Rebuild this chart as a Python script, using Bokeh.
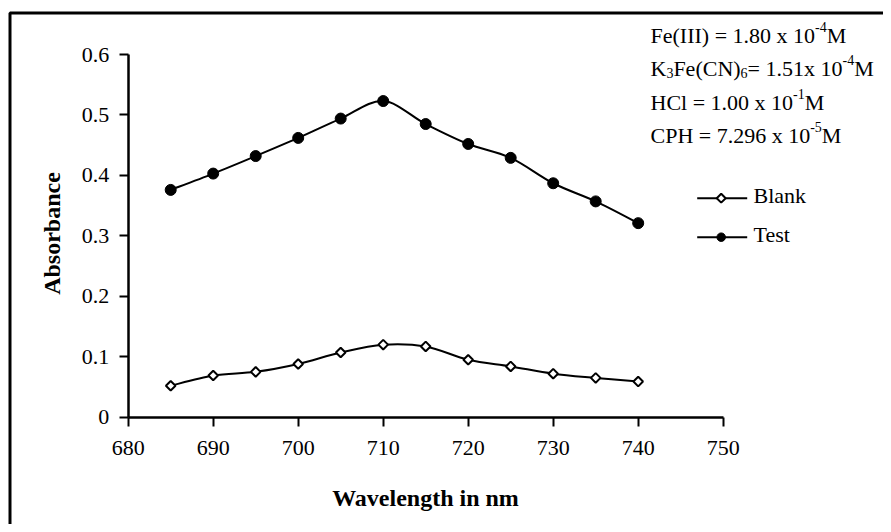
import math
from bokeh.plotting import figure
from bokeh.models import (Range1d, LinearAxis, FixedTicker, CustomJSTickFormatter,
                          Label, BoxAnnotation, ColumnDataSource)
from bokeh.embed import file_html
from bokeh.resources import INLINE

# ---------------- data ----------------
wavelength = [685, 690, 695, 700, 705, 710, 715, 720, 725, 730, 735, 740]
blank = [0.052, 0.069, 0.075, 0.088, 0.107, 0.120, 0.117, 0.095, 0.084, 0.072, 0.065, 0.059]
test = [0.376, 0.403, 0.432, 0.462, 0.494, 0.523, 0.485, 0.452, 0.429, 0.387, 0.357, 0.321]
series_names = ["Blank", "Test"]
x_ticks = [680, 690, 700, 710, 720, 730, 740, 750]
y_ticks = [0, 0.1, 0.2, 0.3, 0.4, 0.5, 0.6]
x_title = "Wavelength in nm"
y_title = "Absorbance"
# condition notes: (text, "" | "sup" | "sub") pieces
notes = [
    [("Fe(III) = 1.80 x 10", ""), ("-4", "sup"), ("M", "")],
    [("K", ""), ("3", "sub"), ("Fe(CN)", ""), ("6", "sub"), ("= 1.51x 10", ""), ("-4", "sup"), ("M", "")],
    [("HCl = 1.00 x 10", ""), ("-1", "sup"), ("M", "")],
    [("CPH = 7.296 x 10", ""), ("-5", "sup"), ("M", "")],
]

# ---------------- geometry (canvas pixels) ----------------
W, H = 883, 524
PX_X680, PX_PER_X = 127.7, 8.5
PX_Y0, PX_PER_Y = 416.7, 604.5
X0 = x_ticks[0] - PX_X680 / PX_PER_X
X1 = X0 + W / PX_PER_X
Y1 = PX_Y0 / PX_PER_Y
Y0 = Y1 - H / PX_PER_Y


def dx(px):
    return X0 + px / PX_PER_X


def dy(py):
    return Y1 - py / PX_PER_Y


FONT = "Liberation Serif"
BASE = 22
SMALL = 14
BL_FIX = -8.5   # correction of label anchor to put the alphabetic baseline where wanted

# Times / Liberation Serif advance widths (1/1000 em)
ADV = {' ': 250, '(': 333, ')': 333, '.': 250, '=': 564, '-': 333, 'x': 500, 'F': 556,
       'e': 444, 'I': 333, 'K': 722, 'C': 667, 'N': 722, 'H': 722, 'l': 278, 'P': 556,
       'M': 889}


def text_width(s, size):
    return sum(ADV.get(c, 500) for c in s) / 1000.0 * size


p = figure(width=W, height=H, x_range=Range1d(X0, X1), y_range=Range1d(Y0, Y1),
           x_axis_location=None, y_axis_location=None, toolbar_location=None,
           output_backend="svg", min_border=0, outline_line_color=None,
           background_fill_color="white", border_fill_color="white", title=None)
p.xgrid.visible = False
p.ygrid.visible = False


def style_axis(ax):
    ax.axis_line_color = "black"
    ax.axis_line_width = 2.5
    ax.major_tick_line_color = "black"
    ax.major_tick_line_width = 2
    ax.major_tick_out = 9
    ax.major_tick_in = 0
    ax.minor_tick_out = 0
    ax.minor_tick_in = 0
    ax.major_label_text_font = FONT
    ax.major_label_text_font_size = "%dpx" % BASE
    ax.major_label_text_color = "black"


xaxis = LinearAxis(fixed_location=0, bounds=(x_ticks[0], x_ticks[-1]),
                   ticker=FixedTicker(ticks=x_ticks))
style_axis(xaxis)
xaxis.major_label_standoff = 15
p.add_layout(xaxis, "below")

yaxis = LinearAxis(fixed_location=x_ticks[0], bounds=(y_ticks[0], y_ticks[-1]),
                   ticker=FixedTicker(ticks=y_ticks),
                   formatter=CustomJSTickFormatter(code="return String(Math.round(tick*10)/10)"))
style_axis(yaxis)
yaxis.major_label_standoff = 10
p.add_layout(yaxis, "left")


# smooth (Excel-like) line drawn as cubic Bezier segments through the data points
def smooth(xs, ys):
    n = len(xs)
    d = dict(x0=[], y0=[], x1=[], y1=[], cx0=[], cy0=[], cx1=[], cy1=[])
    for i in range(n - 1):
        a = max(i - 1, 0)
        b = min(i + 2, n - 1)
        d["x0"].append(xs[i]); d["y0"].append(ys[i])
        d["x1"].append(xs[i + 1]); d["y1"].append(ys[i + 1])
        d["cx0"].append(xs[i] + (xs[i + 1] - xs[a]) / 6)
        d["cy0"].append(ys[i] + (ys[i + 1] - ys[a]) / 6)
        d["cx1"].append(xs[i + 1] - (xs[b] - xs[i]) / 6)
        d["cy1"].append(ys[i + 1] - (ys[b] - ys[i]) / 6)
    return ColumnDataSource(d)


for ys in (blank, test):
    p.bezier(x0="x0", y0="y0", x1="x1", y1="y1", cx0="cx0", cy0="cy0", cx1="cx1", cy1="cy1",
             source=smooth(wavelength, ys), line_color="black", line_width=2)

DIAMOND = dict(marker="square", angle=math.pi / 4, fill_color="white",
               line_color="black", line_width=2)
DOT = dict(marker="circle", fill_color="black", line_color="black", line_width=1)

p.scatter(wavelength, blank, size=6.8, **DIAMOND)
p.scatter(wavelength, test, size=11, **DOT)

# legend (Excel style: line with marker in the middle, label on the right)
leg_rows = [197.7, 236.7]
p.segment(x0=[dx(696.7)] * 2, x1=[dx(746.7)] * 2, y0=[dy(r) for r in leg_rows],
          y1=[dy(r) for r in leg_rows], line_color="black", line_width=2)
p.scatter([dx(720.7)], [dy(leg_rows[0])], size=6.3, **DIAMOND)
p.scatter([dx(720.7)], [dy(leg_rows[1])], size=8.5, **DOT)
for name, r in zip(series_names, leg_rows):
    p.add_layout(Label(x=dx(753), y=dy(r + 5.5 + BL_FIX), text=name, text_font=FONT,
                       text_font_size="%dpx" % BASE, text_baseline="alphabetic",
                       text_align="left", text_color="black"))

# condition notes
baselines = [43, 76, 110, 143]
for parts, bl in zip(notes, baselines):
    cx = 650.0
    for txt, kind in parts:
        size = BASE if kind == "" else SMALL
        shift = {"": 0, "sup": -8.5, "sub": 4.5}[kind]
        p.add_layout(Label(x=dx(cx), y=dy(bl + shift + BL_FIX), text=txt, text_font=FONT,
                           text_font_size="%dpx" % size, text_baseline="alphabetic",
                           text_align="left", text_color="black"))
        cx += text_width(txt, size)

# axis titles
p.add_layout(Label(x=dx(51.7), y=dy(233), text=y_title, angle=math.pi / 2,
                   text_align="center", text_baseline="middle", text_font=FONT,
                   text_font_size="24px", text_font_style="bold", text_color="black"))
p.add_layout(Label(x=dx(425), y=dy(497), text=x_title,
                   text_align="center", text_baseline="middle", text_font=FONT,
                   text_font_size="24px", text_font_style="bold", text_color="black"))

# chart-area border (left and top edges visible)
p.add_layout(BoxAnnotation(left=dx(9.5), top=dy(12.5), right=dx(W + 12), bottom=dy(H + 12),
                           fill_color=None, fill_alpha=0, line_color="black",
                           line_alpha=1, line_width=3))

open("out.html", "w").write(file_html(p, INLINE))
